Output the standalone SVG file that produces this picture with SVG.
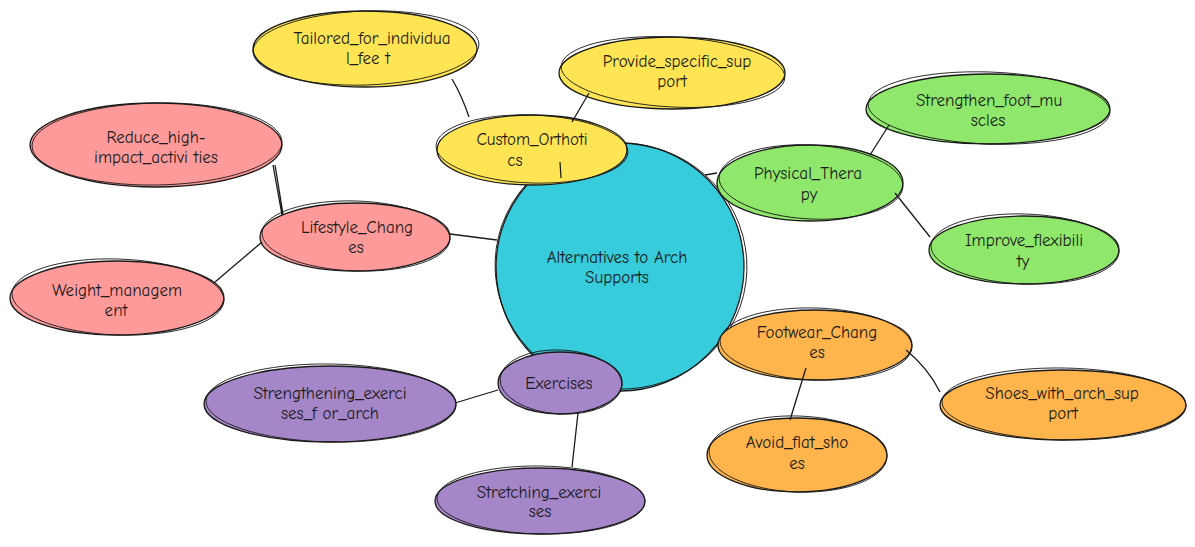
<svg xmlns="http://www.w3.org/2000/svg" width="1195" height="547" viewBox="0 0 1195 547">
<style>
.n{stroke:#1a1a1a;stroke-width:1.3}
.s{fill:none;stroke:#1a1a1a;stroke-width:0.9}
.t{font-family:"Comic Neue","Liberation Sans",sans-serif;font-size:17px;fill:#1a1a1a;text-anchor:middle}
.c{stroke:#1a1a1a;stroke-width:1.3;fill:none}
.y{fill:#FFE553}.p{fill:#FF9A9A}.g{fill:#8FE86B}.o{fill:#FFB54B}.v{fill:#A587C9}
</style>
<rect width="1195" height="547" fill="#fff"/>
<g id="center">
<circle cx="620" cy="267" r="124" fill="#36CCDB" class="n"/>
<ellipse cx="621" cy="266" rx="126" ry="123" class="s" transform="rotate(8 621 266)"/>
<text class="t" x="617" y="263">Alternatives to Arch</text>
<text class="t" x="617" y="283">Supports</text>
</g>
<g id="custom_orthotics">
<ellipse cx="532" cy="150" rx="95" ry="35" class="n y"/>
<ellipse cx="532" cy="149" rx="96" ry="34" class="s" transform="rotate(2 532 149)"/>
<text class="t" x="532" y="145">Custom_Orthoti</text>
<text class="t" x="515" y="166">cs</text>
</g>
<g id="tailored">
<ellipse cx="365" cy="49" rx="112" ry="38" class="n y"/>
<ellipse cx="366" cy="48" rx="113" ry="37" class="s" transform="rotate(-2 366 48)"/>
<text class="t" x="372" y="44">Tailored_for_individua</text>
<text class="t" x="368" y="64">l_fee t</text>
</g>
<g id="provide">
<ellipse cx="672" cy="73" rx="113" ry="36" class="n y"/>
<ellipse cx="673" cy="72" rx="112" ry="35" class="s" transform="rotate(3 673 72)"/>
<text class="t" x="677" y="67">Provide_specific_sup</text>
<text class="t" x="672" y="87">port</text>
</g>
<g id="lifestyle">
<ellipse cx="355" cy="237" rx="95" ry="34" class="n p"/>
<ellipse cx="356" cy="236" rx="94" ry="35" class="s" transform="rotate(2 356 236)"/>
<text class="t" x="357" y="233">Lifestyle_Chang</text>
<text class="t" x="356" y="253">es</text>
</g>
<g id="reduce">
<ellipse cx="156" cy="145" rx="126" ry="42" class="n p"/>
<ellipse cx="157" cy="144" rx="125" ry="41" class="s" transform="rotate(-1 157 144)"/>
<text class="t" x="156" y="143">Reduce_high-</text>
<text class="t" x="156" y="163">impact_activi ties</text>
</g>
<g id="weight">
<ellipse cx="117" cy="298" rx="107" ry="37" class="n p"/>
<ellipse cx="118" cy="297" rx="106" ry="38" class="s" transform="rotate(2 118 297)"/>
<text class="t" x="117" y="296">Weight_managem</text>
<text class="t" x="116" y="316">ent</text>
</g>
<g id="physical_therapy">
<ellipse cx="810" cy="183" rx="93" ry="38" class="n g"/>
<ellipse cx="811" cy="182" rx="92" ry="37" class="s" transform="rotate(3 811 182)"/>
<text class="t" x="808" y="179">Physical_Thera</text>
<text class="t" x="809" y="200">py</text>
</g>
<g id="strengthen">
<ellipse cx="988" cy="109" rx="122" ry="35" class="n g"/>
<ellipse cx="989" cy="108" rx="121" ry="36" class="s" transform="rotate(2 989 108)"/>
<text class="t" x="989" y="106">Strengthen_foot_mu</text>
<text class="t" x="988" y="126">scles</text>
</g>
<g id="improve">
<ellipse cx="1024" cy="250" rx="95" ry="34" class="n g"/>
<ellipse cx="1025" cy="249" rx="94" ry="35" class="s" transform="rotate(2 1025 249)"/>
<text class="t" x="1024" y="246">Improve_flexibili</text>
<text class="t" x="1023" y="267">ty</text>
</g>
<g id="footwear">
<ellipse cx="815" cy="345" rx="97" ry="35" class="n o"/>
<ellipse cx="816" cy="344" rx="96" ry="36" class="s" transform="rotate(2 816 344)"/>
<text class="t" x="817" y="338">Footwear_Chang</text>
<text class="t" x="817" y="358">es</text>
</g>
<g id="shoes">
<ellipse cx="1063" cy="405" rx="123" ry="35" class="n o"/>
<ellipse cx="1064" cy="404" rx="122" ry="36" class="s" transform="rotate(1 1064 404)"/>
<text class="t" x="1062" y="399">Shoes_with_arch_sup</text>
<text class="t" x="1063" y="419">port</text>
</g>
<g id="avoid">
<ellipse cx="797" cy="455" rx="90" ry="37" class="n o"/>
<ellipse cx="798" cy="454" rx="89" ry="38" class="s" transform="rotate(2 798 454)"/>
<text class="t" x="797" y="448">Avoid_flat_sho</text>
<text class="t" x="797" y="469">es</text>
</g>
<g id="exercises">
<ellipse cx="560" cy="383" rx="62" ry="31" class="n v"/>
<ellipse cx="561" cy="382" rx="61" ry="32" class="s" transform="rotate(3 561 382)"/>
<text class="t" x="559" y="389">Exercises</text>
</g>
<g id="strengthening">
<ellipse cx="330" cy="404" rx="126" ry="38" class="n v"/>
<ellipse cx="331" cy="403" rx="125" ry="39" class="s" transform="rotate(1 331 403)"/>
<text class="t" x="330" y="399">Strengthening_exerci</text>
<text class="t" x="330" y="419">ses_f or_arch</text>
</g>
<g id="stretching">
<ellipse cx="540" cy="501" rx="105" ry="33" class="n v"/>
<ellipse cx="541" cy="500" rx="104" ry="34" class="s" transform="rotate(1 541 500)"/>
<text class="t" x="539" y="498">Stretching_exerci</text>
<text class="t" x="540" y="517">ses</text>
</g>
<g id="connectors">
<path class="c" d="M452 79 Q462 96 469 117"/>
<path class="c" d="M589 93 L572 122"/>
<path class="c" d="M560 162 L561 178"/>
<path class="c" d="M273 165 L282 215 M275 165 L283 214"/>
<path class="c" d="M215 282 L262 242"/>
<path class="c" d="M450 234 L497 240"/>
<path class="c" d="M889 125 L870 155"/>
<path class="c" d="M895 193 L930 237"/>
<path class="c" d="M705 175 L717 173"/>
<path class="c" d="M906 350 Q928 368 940 392"/>
<path class="c" d="M806 368 L790 420"/>
<path class="c" d="M455 403 L498 390"/>
<path class="c" d="M578 413 L572 467"/>
</g>
</svg>
